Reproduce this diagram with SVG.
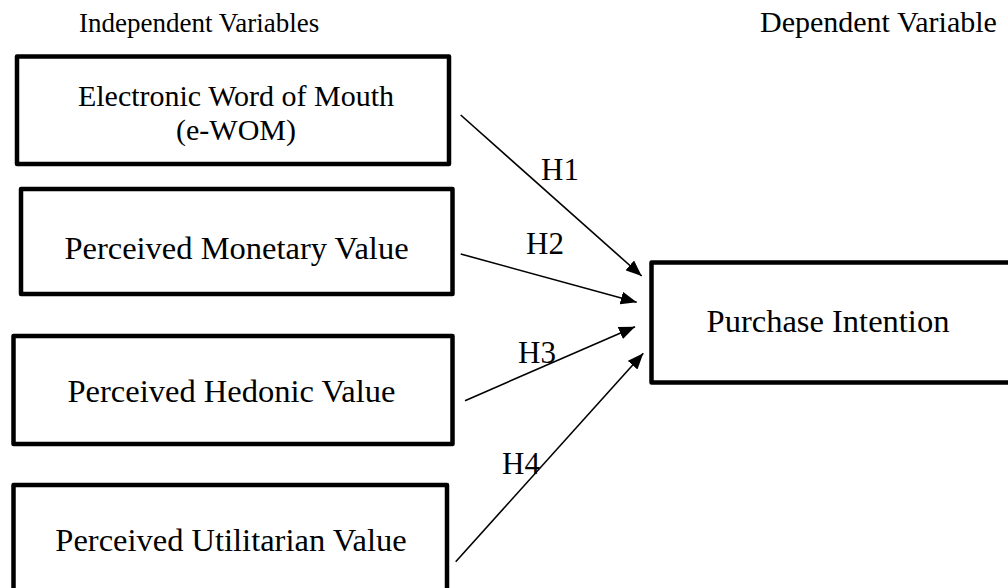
<svg xmlns="http://www.w3.org/2000/svg" width="1008" height="588" viewBox="0 0 1008 588">
<defs>
<style>
.box{fill:#fff;stroke:#000;stroke-width:4.5;stroke-linejoin:round}
.t{font-family:"Liberation Serif","Times New Roman",serif;font-size:32.5px;fill:#000}
.c{text-anchor:middle}
.edge{stroke:#000;stroke-width:1.6;fill:none;marker-end:url(#ah)}
</style>
<marker id="ah" markerUnits="userSpaceOnUse" markerWidth="17" markerHeight="13" refX="16" refY="6.5" orient="auto">
<path d="M0,0 L16,6.5 L0,13 z" fill="#000"/>
</marker>
</defs>
<rect width="1008" height="588" fill="#fff"/>
<text class="t" x="79" y="32" style="font-size:27px">Independent Variables</text>
<text class="t" x="760" y="32" style="font-size:30px">Dependent Variable</text>
<g id="n1"><rect class="box" x="17" y="56.5" width="432" height="107.5"/>
<text class="t c" x="236" y="106" style="font-size:30px">Electronic Word of Mouth</text>
<text class="t c" x="236" y="140" style="font-size:30px">(e-WOM)</text></g>
<g id="n2"><rect class="box" x="21" y="189" width="431.5" height="105"/>
<text class="t c" x="236.5" y="259">Perceived Monetary Value</text></g>
<g id="n3"><rect class="box" x="13.5" y="336" width="439" height="108"/>
<text class="t c" x="231.5" y="402">Perceived Hedonic Value</text></g>
<g id="n4"><rect class="box" x="13.5" y="485" width="433.5" height="120"/>
<text class="t c" x="231" y="551">Perceived Utilitarian Value</text></g>
<g id="n5"><rect class="box" x="651.5" y="262.5" width="380" height="120"/>
<text class="t c" x="828" y="332">Purchase Intention</text></g>
<g id="edges">
<line class="edge" x1="460.7" y1="115" x2="641.7" y2="276"/>
<line class="edge" x1="460.7" y1="254" x2="636.7" y2="302.3"/>
<line class="edge" x1="465" y1="400.7" x2="635" y2="326.7"/>
<line class="edge" x1="455.7" y1="561.7" x2="643.3" y2="353.3"/>
<text class="t" x="541" y="180" style="font-size:31px">H1</text>
<text class="t" x="526" y="254" style="font-size:31px">H2</text>
<text class="t" x="518" y="363" style="font-size:31px">H3</text>
<text class="t" x="502" y="474" style="font-size:31px">H4</text>
</g>
</svg>
